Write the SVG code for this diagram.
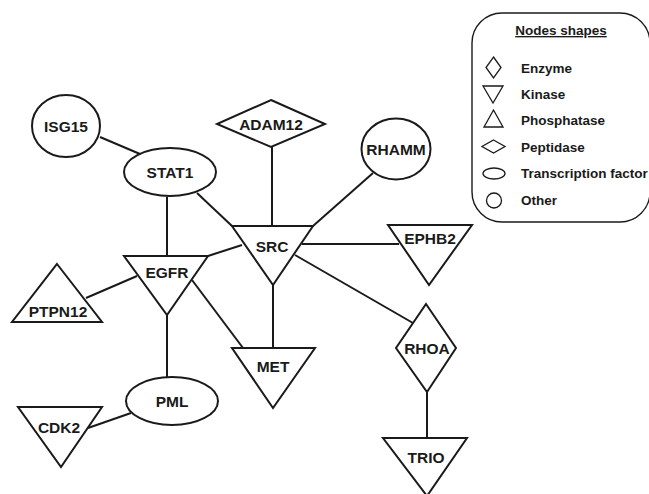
<svg xmlns="http://www.w3.org/2000/svg" width="649" height="494" viewBox="0 0 649 494">
<style>
.n{fill:#fff;stroke:#1a1a1a;stroke-width:2;stroke-linejoin:miter}
.e line{stroke:#1a1a1a;stroke-width:2}
.t{font-family:"Liberation Sans",Arial,sans-serif;font-weight:bold;font-size:15.5px;fill:#1a1a1a;text-anchor:middle}
.l{font-family:"Liberation Sans",Arial,sans-serif;font-weight:bold;font-size:13.5px;fill:#1a1a1a}
.ic{fill:#fff;stroke:#1a1a1a;stroke-width:1.3}
</style>
<rect width="649" height="494" fill="#fff"/>
<g id="edges" class="e">
<line x1="100" y1="137" x2="140" y2="154"/>
<line x1="167" y1="197" x2="167" y2="256"/>
<line x1="197" y1="193" x2="232" y2="226"/>
<line x1="272" y1="147" x2="272" y2="226"/>
<line x1="373" y1="173" x2="313" y2="226"/>
<line x1="302" y1="244" x2="399" y2="244"/>
<line x1="242" y1="245" x2="208" y2="256"/>
<line x1="273" y1="285" x2="273" y2="348"/>
<line x1="295" y1="255" x2="413" y2="323"/>
<line x1="137" y1="276" x2="86" y2="298"/>
<line x1="192" y1="280" x2="243" y2="348"/>
<line x1="167" y1="315" x2="167" y2="377"/>
<line x1="131" y1="413" x2="88" y2="428"/>
<line x1="427" y1="392" x2="427" y2="438"/>
</g>
<g id="ISG15"><ellipse class="n" cx="66" cy="126" rx="34" ry="31"/><text class="t" x="66" y="131.5">ISG15</text></g>
<g id="STAT1"><ellipse class="n" cx="170" cy="172" rx="46" ry="24"/><text class="t" x="170" y="177.5">STAT1</text></g>
<g id="ADAM12"><polygon class="n" points="271,100 325,124 271,147 217,124"/><text class="t" x="271" y="129.5">ADAM12</text></g>
<g id="RHAMM"><ellipse class="n" cx="396" cy="149" rx="34.5" ry="30.5"/><text class="t" x="396" y="154.5">RHAMM</text></g>
<g id="SRC"><polygon class="n" points="232,226 313,226 273,285"/><text class="t" x="272" y="251.5">SRC</text></g>
<g id="EPHB2"><polygon class="n" points="388,225 472,225 429,285"/><text class="t" x="430" y="243.5">EPHB2</text></g>
<g id="EGFR"><polygon class="n" points="124,256 208,256 167,315"/><text class="t" x="167" y="277.5">EGFR</text></g>
<g id="PTPN12"><polygon class="n" points="57,264 102,322 12,322"/><text class="t" x="58" y="317">PTPN12</text></g>
<g id="MET"><polygon class="n" points="232,348 315,348 273,408"/><text class="t" x="273" y="371.5">MET</text></g>
<g id="PML"><ellipse class="n" cx="172" cy="401" rx="46" ry="24"/><text class="t" x="172" y="406.5">PML</text></g>
<g id="CDK2"><polygon class="n" points="18,407 102,407 61,467"/><text class="t" x="59" y="432.5">CDK2</text></g>
<g id="RHOA"><polygon class="n" points="426,304 456,348 427,392 396,348"/><text class="t" x="427" y="353.5">RHOA</text></g>
<g id="TRIO"><polygon class="n" points="383,438 467,438 427,496"/><text class="t" x="426" y="462.5">TRIO</text></g>
<g id="legend">
<rect x="472" y="13" width="178" height="209" rx="30" fill="#fff" stroke="#1a1a1a" stroke-width="1.4"/>
<text class="l" x="561" y="35" text-anchor="middle" text-decoration="underline">Nodes shapes</text>
<polygon class="ic" points="493.5,57 501,67.5 493.5,78 486,67.5"/>
<text class="l" x="521" y="73">Enzyme</text>
<polygon class="ic" points="483,86 503,86 493,103"/>
<text class="l" x="521" y="99">Kinase</text>
<polygon class="ic" points="493.5,110 503,127 484,127"/>
<text class="l" x="521" y="125">Phosphatase</text>
<polygon class="ic" points="493.5,140 505,146.5 493.5,153 482,146.5"/>
<text class="l" x="521" y="152">Peptidase</text>
<ellipse class="ic" cx="494" cy="173.5" rx="11" ry="5.5"/>
<text class="l" x="521" y="178">Transcription factor</text>
<circle class="ic" cx="494" cy="200.5" r="7.5"/>
<text class="l" x="521" y="205">Other</text>
</g>
</svg>
